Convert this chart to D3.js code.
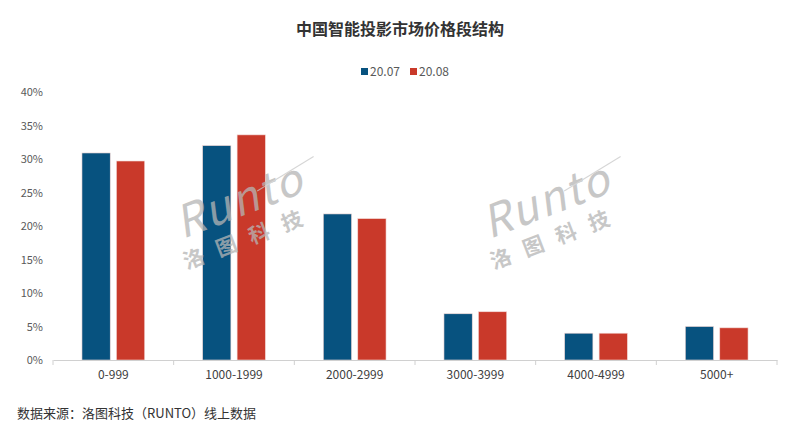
<!DOCTYPE html>
<html>
<head>
<meta charset="utf-8">
<script src="https://cdn.jsdelivr.net/npm/d3@7"></script>
<style>
  body { margin: 0; background: #fff; }
  text { font-family: "Noto Sans CJK SC", "Noto Sans", sans-serif; }
</style>
</head>
<body>
<div id="chart"></div>
<script>
const categories = ['0-999', '1000-1999', '2000-2999', '3000-3999', '4000-4999', '5000+'];
const seriesNames = ['20.07', '20.08'];
const values0807 = [30.9, 32.0, 21.8, 6.9, 4.0, 5.0];
const values0808 = [29.7, 33.6, 21.1, 7.2, 4.0, 4.8];
const yTicks = [0, 5, 10, 15, 20, 25, 30, 35, 40];

const width = 790, height = 442;
const margin = { top: 92, right: 13, bottom: 82, left: 53 };
const graphWidth = width - margin.left - margin.right;
const graphHeight = height - margin.top - margin.bottom;
const colors = ['#07527f', '#c9392a'];

const data = categories.map((c, i) => ({ cat: c, vals: [values0807[i], values0808[i]] }));

const svg = d3.select('#chart').append('svg').attr('width', width).attr('height', height);

// title
svg.append('text')
    .attr('x', 400).attr('y', 35)
    .attr('text-anchor', 'middle')
    .attr('font-size', 16).attr('font-weight', 'bold')
    .attr('fill', '#333')
    .text('中国智能投影市场价格段结构');

// legend
const legend = svg.append('g').attr('transform', 'translate(361, 72)');
seriesNames.forEach((name, i) => {
    const g = legend.append('g').attr('transform', `translate(${i * 49}, 0)`);
    g.append('rect').attr('x', 0).attr('y', -4).attr('width', 7).attr('height', 7).attr('fill', colors[i]);
    g.append('text').attr('x', 9).attr('y', 4).attr('font-size', 12).attr('fill', '#595959').text(name);
});

const graph = svg.append('g').attr('transform', `translate(${margin.left}, ${margin.top})`);

const yScale = d3.scaleLinear().domain([0, 40]).range([graphHeight, 0]);
const xScale = d3.scaleBand().domain(categories).range([0, graphWidth]).paddingInner(0.48).paddingOuter(0.24);
const xInner = d3.scaleBand().domain([0, 1]).range([0, xScale.bandwidth()]).paddingInner(0.18);

// watermarks
[[245, 215], [552, 215]].forEach(([cx, cy]) => {
    const w = svg.append('g')
        .attr('transform', `translate(${cx}, ${cy}) rotate(-21)`)
        .attr('fill', '#b5b5b5').attr('opacity', 0.75);
    w.append('text').attr('x', 0).attr('y', 0).attr('text-anchor', 'middle')
        .attr('font-size', 44).attr('font-style', 'italic').attr('font-family', 'DejaVu Sans')
        .attr('letter-spacing', 2).text('Runto');
    w.append('line').attr('x1', 20).attr('y1', -18).attr('x2', 85).attr('y2', -30)
        .attr('stroke', '#c8c8c8').attr('stroke-width', 1);
    w.append('text').attr('x', -4).attr('y', 30).attr('text-anchor', 'middle')
        .attr('font-size', 21).attr('font-weight', 'bold').attr('letter-spacing', 14)
        .text('洛图科技');
});

// bars
graph.append('g').selectAll('g').data(data).enter().append('g')
    .attr('transform', (d) => `translate(${xScale(d.cat)}, 0)`)
    .selectAll('rect').data((d) => d.vals).enter().append('rect')
    .attr('x', (d, i) => xInner(i))
    .attr('width', xInner.bandwidth())
    .attr('y', (d) => yScale(d))
    .attr('height', (d) => graphHeight - yScale(d))
    .attr('fill', (d, i) => colors[i])
    .attr('stroke', '#f3d9d6').attr('stroke-width', 0.6);

// y axis
const yAxis = graph.append('g').attr('class', 'axis')
    .call(d3.axisLeft(yScale).tickValues(yTicks).tickSize(0).tickPadding(10).tickFormat((d) => d + '%'));
yAxis.select('.domain').remove();
yAxis.selectAll('text').attr('font-size', 11).attr('fill', '#595959').attr('font-family', 'Liberation Sans, Arial, sans-serif');

// x axis
const xAxis = graph.append('g').attr('class', 'axis')
    .attr('transform', `translate(0, ${graphHeight})`)
    .call(d3.axisBottom(xScale).tickSize(0).tickPadding(10));
xAxis.select('.domain').attr('stroke', '#d0d0d0');
xAxis.selectAll('text').attr('font-size', 12).attr('fill', '#404040');
const step = graphWidth / categories.length;
xAxis.selectAll('line.sep').data(d3.range(categories.length + 1)).enter().append('line')
    .attr('class', 'sep')
    .attr('x1', (d) => d * step).attr('x2', (d) => d * step)
    .attr('y1', 0).attr('y2', 5)
    .attr('stroke', '#d0d0d0');

// source note
svg.append('text')
    .attr('x', 17).attr('y', 418)
    .attr('font-size', 13).attr('fill', '#333')
    .text('数据来源：洛图科技（RUNTO）线上数据');
</script>
</body>
</html>
